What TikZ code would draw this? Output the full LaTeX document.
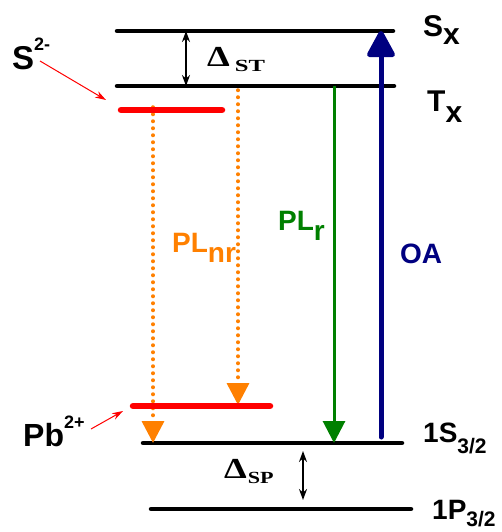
\documentclass[tikz,border=0pt]{standalone}
\usepackage{fontspec}
\setmainfont{Liberation Sans}
\newfontfamily\serifgr{Liberation Serif}
\usetikzlibrary{arrows.meta}
\definecolor{myorange}{RGB}{255,128,0}
\definecolor{mygreen}{RGB}{0,128,0}
\definecolor{mynavy}{RGB}{0,0,128}
\definecolor{myred}{RGB}{255,0,0}
\newcommand{\fs}[1]{\fontsize{#1}{#1}\selectfont}
\newcommand{\bigdelta}{\scalebox{1.25}[1]{\fs{29}\bfseries\symbol{"0394}}}
\begin{document}
\begin{tikzpicture}[x=1pt,y=-1pt,
  level/.style={line width=4.5pt,line cap=round,black},
  redlevel/.style={line width=6.5pt,line cap=round,myred},
  dotarrow/.style={myorange,line width=3.5pt,line cap=round,dash pattern=on 0.5pt off 6.5pt,-{Triangle[length=22pt,width=22pt]}},
  gap/.style={line width=1.8pt,{Stealth[length=11pt,width=8pt]}-{Stealth[length=11pt,width=8pt]}},
  pointer/.style={myred,line width=1pt,-{Stealth[length=11pt,width=7pt]}},
  lbl/.style={inner sep=0pt,anchor=base west,font=\bfseries}]
\useasboundingbox (0,0) rectangle (502,532);
% levels
\coordinate (sxL) at (117,31); \coordinate (sxR) at (393,31);
\coordinate (txL) at (117,86); \coordinate (txR) at (394,86);
\coordinate (sL) at (121,110); \coordinate (sR) at (222,110);
\coordinate (pbL) at (133,406); \coordinate (pbR) at (270,406);
\coordinate (s32L) at (143,443); \coordinate (s32R) at (402,443);
\coordinate (p32L) at (151,509); \coordinate (p32R) at (411,509);
\draw[level] (sxL) -- (sxR);
\draw[level] (txL) -- (txR);
\draw[level] (s32L) -- (s32R);
\draw[level] (p32L) -- (p32R);
% orange dotted transitions
\coordinate (o1a) at (153,107); \coordinate (o1b) at (153,443);
\coordinate (o2a) at (238,90); \coordinate (o2b) at (238,405);
\draw[dotarrow] (o1a) -- (o1b);
\draw[dotarrow] (o2a) -- (o2b);
\draw[redlevel] (sL) -- (sR);
\draw[redlevel] (pbL) -- (pbR);
% gaps
\coordinate (g1a) at (186,31); \coordinate (g1b) at (186,86);
\draw[gap] (g1a) -- (g1b);
\coordinate (g2a) at (303,451); \coordinate (g2b) at (303,500);
\draw[gap] (g2a) -- (g2b);
% green and navy
\coordinate (ga) at (334,86); \coordinate (gb) at (334,443);
\draw[mygreen,line width=3pt,-{Triangle[length=22pt,width=22pt]}] (ga) -- (gb);
\coordinate (na) at (381,437); \coordinate (nb) at (381,31);
\draw[mynavy,line width=5pt,line cap=round,-{Triangle[length=29pt,width=30pt,round]}] (na) -- (nb);
% pointers
\coordinate (p1a) at (40,61); \coordinate (p1b) at (106,100);
\draw[pointer] (p1a) -- (p1b);
\coordinate (p2a) at (91,429); \coordinate (p2b) at (123,411);
\draw[pointer] (p2a) -- (p2b);
% labels
\node[lbl] (Ssup) at (12,70) {\fs{33}S\raisebox{19pt}{\fs{18}2-}};
\node[lbl] (Sx) at (423,37) {\fs{30}S\raisebox{-8pt}{x}};
\node[lbl] (Tx) at (427,112) {\fs{30}T\raisebox{-10pt}{x}};
\node[inner sep=0pt,anchor=base west] (dST) at (207,67) {\serifgr\bigdelta\hspace{5pt}\raisebox{-5pt}{\scalebox{1.45}[1]{\fs{17}\bfseries ST}}};
\node[lbl,text=myorange] (plnr) at (172,252) {\fs{28}PL\raisebox{-10pt}{nr}};
\node[lbl,text=mygreen] (plr) at (278,230) {\fs{28}PL\raisebox{-10pt}{r}};
\node[lbl,text=mynavy] (oa) at (400,263) {\fs{28}OA};
\node[lbl] (pb) at (23,446) {\fs{32}Pb\raisebox{18pt}{\fs{18}2+}};
\node[inner sep=0pt,anchor=base west] (dSP) at (224,478) {\serifgr\bigdelta\hspace{1pt}\raisebox{-5pt}{\scalebox{1.3}[1]{\fs{17}\bfseries SP}}};
\node[lbl] (s32) at (423,442) {\fs{28}1S\raisebox{-11pt}{\fs{21}3/2}};
\node[lbl] (p32) at (432,519) {\fs{28}1P\raisebox{-7pt}{\fs{21}3/2}};
\end{tikzpicture}
\end{document}
